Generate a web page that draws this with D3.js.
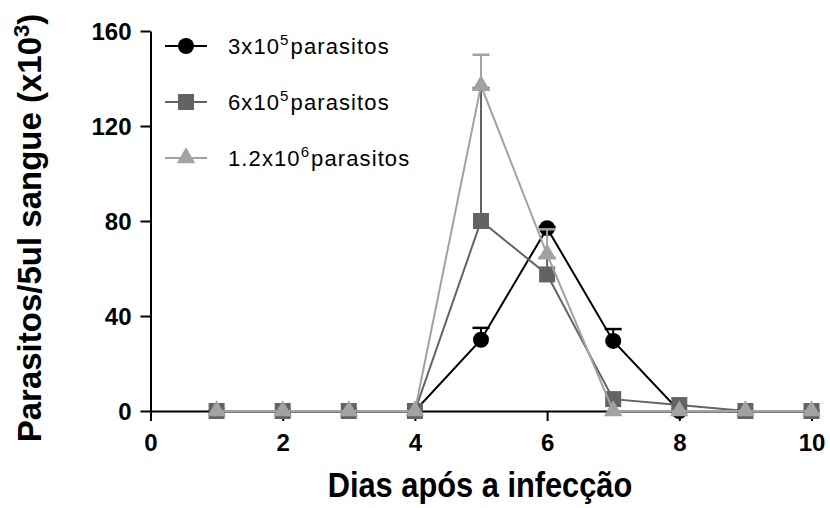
<!DOCTYPE html>
<html>
<head>
<meta charset="utf-8">
<script src="https://cdn.jsdelivr.net/npm/d3@7"></script>
<style>
  body { margin: 0; background: #fff; }
  svg { display: block; font-family: "Liberation Sans", Arial, sans-serif; }
</style>
</head>
<body>
<div id="chart"></div>
<script>
// data
let days      = [1, 2, 3, 4, 5, 6, 7, 8, 9, 10];
let low       = [0, 0, 0, 0, 30, 77, 29.5, 0, 0, 0];       // 3x10^5
let lowErr    = [0, 0, 0, 0, 5, 0.5, 5, 0, 0, 0];
let mid       = [0, 0, 0, 0, 80, 57.5, 5, 2.5, 0, 0];      // 6x10^5
let midErr    = [0, 0, 0, 0, 56, 7, 0, 0, 0, 0];
let high      = [0, 0, 0, 0, 137, 66, 0, 0, 0, 0];         // 1.2x10^6
let highErr   = [0, 0, 0, 0, 13, 10.5, 0, 0, 0, 0];
let xTicks    = [0, 2, 4, 6, 8, 10];
let yTicks    = [0, 40, 80, 120, 160];
let labelBase = ['3x10', '6x10', '1.2x10'];
let labelExp  = ['5', '5', '6'];

let w = 830;
let h = 508;
let svg = d3.select('#chart').append('svg').attr('width', w).attr('height', h);

let x = d3.scaleLinear().domain([0, 10]).range([150.5, 811.5]);
let y = d3.scaleLinear().domain([0, 160]).range([411, 31]);

let series = [
  {vals: low,  err: lowErr,  color: '#000000', sym: d3.symbolCircle,   size: 201},
  {vals: mid,  err: midErr,  color: '#636363', sym: d3.symbolSquare,   size: 256},
  {vals: high, err: highErr, color: '#a2a2a2', sym: d3.symbolTriangle, size: 150},
];

// axes
let xAxis = svg.append('g').attr('transform', 'translate(0,' + y(0) + ')')
  .call(d3.axisBottom(x).tickValues(xTicks).tickSize(10).tickSizeOuter(0));
let yAxis = svg.append('g').attr('transform', 'translate(' + x(0) + ',0)')
  .call(d3.axisLeft(y).tickValues(yTicks).tickSize(10).tickSizeOuter(0));

[xAxis, yAxis].forEach(a => {
  a.selectAll('path, line').attr('stroke', '#000').attr('stroke-width', 2);
  a.selectAll('text').attr('fill', '#000')
    .attr('font-family', '"Liberation Sans", Arial, sans-serif')
    .attr('font-weight', 'bold').attr('font-size', 24);
});
xAxis.selectAll('text').attr('y', 40).attr('dy', null);
yAxis.selectAll('text').attr('x', -19).attr('dy', '0.36em');

// series: lines, error bars, markers
let line = d3.line().x((d, i) => x(days[i])).y(d => y(d));

series.forEach(s => {
  let g = svg.append('g');
  g.append('path').attr('d', line(s.vals))
    .attr('fill', 'none').attr('stroke', s.color).attr('stroke-width', 2);

  days.forEach((d, i) => {
    if (!s.err[i]) return;
    let top = y(s.vals[i] + s.err[i]);
    g.append('line').attr('x1', x(d)).attr('x2', x(d))
      .attr('y1', y(s.vals[i])).attr('y2', top)
      .attr('stroke', s.color).attr('stroke-width', 2);
    g.append('line').attr('x1', x(d) - 8.5).attr('x2', x(d) + 8.5)
      .attr('y1', top).attr('y2', top)
      .attr('stroke', s.color).attr('stroke-width', 2.5);
  });

  g.selectAll('path.pt').data(s.vals).enter().append('path').attr('class', 'pt')
    .attr('d', d3.symbol().type(s.sym).size(s.size))
    .attr('transform', (d, i) => 'translate(' + x(days[i]) + ',' + y(d) + ')')
    .attr('fill', s.color);
});

// legend
let legendY = [46, 102, 158];
series.forEach((s, i) => {
  let g = svg.append('g').attr('transform', 'translate(0,' + legendY[i] + ')');
  g.append('line').attr('x1', 165).attr('x2', 207).attr('y1', 0).attr('y2', 0)
    .attr('stroke', s.color).attr('stroke-width', 2);
  g.append('path').attr('d', d3.symbol().type(s.sym).size(s.size))
    .attr('transform', 'translate(186,0)').attr('fill', s.color);
  let t = g.append('text').attr('x', 228).attr('y', 8)
    .attr('font-size', 22).attr('letter-spacing', 1.1).attr('fill', '#000');
  t.append('tspan').text(labelBase[i]);
  t.append('tspan').attr('dy', -9).attr('font-size', 15).text(labelExp[i]);
  t.append('tspan').attr('dy', 9).attr('dx', 1).text('parasitos');
});

// axis titles
svg.append('text').attr('transform', 'translate(480,497) scale(0.88,1)')
  .attr('text-anchor', 'middle').attr('font-weight', 'bold').attr('font-size', 35)
  .text('Dias após a infecção');

let yt = svg.append('text').attr('transform', 'translate(41,228) rotate(-90)')
  .attr('text-anchor', 'middle').attr('font-weight', 'bold').attr('font-size', 33);
yt.append('tspan').text('Parasitos/5ul sangue (x10');
yt.append('tspan').attr('dy', -12).attr('font-size', 22).text('3');
yt.append('tspan').attr('dy', 12).text(')');
</script>
</body>
</html>
